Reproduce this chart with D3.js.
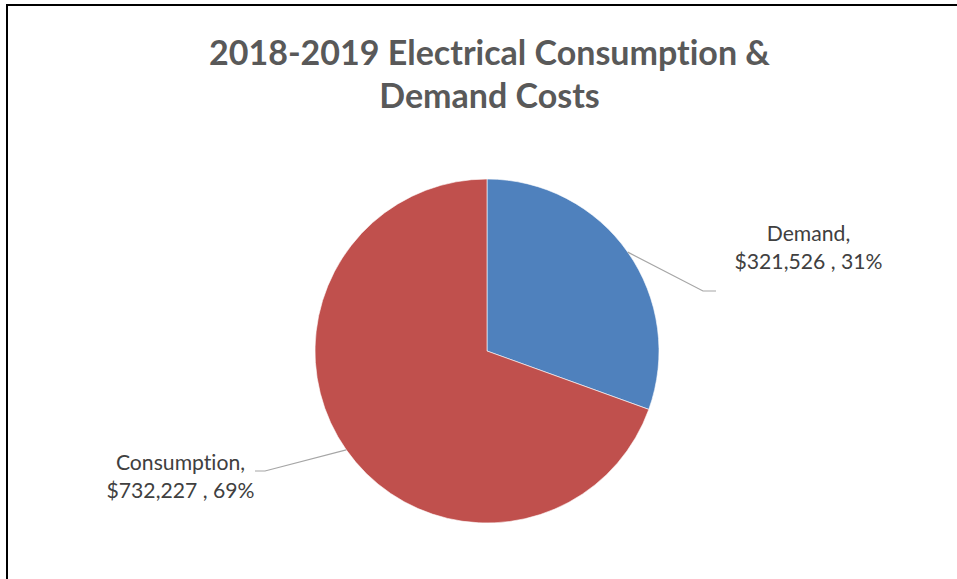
<!DOCTYPE html>
<html>
<head>
<meta charset="utf-8">
<script src="https://cdn.jsdelivr.net/npm/d3@7"></script>
<style>
  html, body { margin: 0; padding: 0; background: #fff; }
  svg { display: block; }
  text { font-variant-ligatures: none; font-feature-settings: "liga" 0, "clig" 0; }
</style>
</head>
<body>
<svg id="chart" width="957" height="579"></svg>
<script>
const titleLines = ["2018-2019 Electrical Consumption &", "Demand Costs"];
const categories = ["Demand", "Consumption"];
const values = [321526, 732227];
const colors = ["#4F81BD", "#C0504D"];

const W = 957, H = 579;
const svg = d3.select("#chart");
const font = "Lato, 'Open Sans', 'Liberation Sans', sans-serif";

// border (frame runs off the right and bottom of the window)
svg.append("rect")
  .attr("x", 7).attr("y", 5)
  .attr("width", W + 20).attr("height", H + 20)
  .attr("fill", "#fff").attr("stroke", "#000").attr("stroke-width", 2);

// title
const cx = 489.5;
const title = svg.append("g");
const tl = title.selectAll("text").data(titleLines).join("text")
  .attr("x", cx)
  .attr("y", (d, i) => [65, 108][i])
  .attr("text-anchor", "middle")
  .attr("font-family", font)
  .attr("font-weight", "bold")
  .attr("font-size", 32)
  .attr("fill", "#595959")
  .text(d => d);
const w1 = tl.nodes()[0].getComputedTextLength();
tl.attr("font-size", 32 * 561 / w1);

// pie
const pcx = 487, pcy = 351, R = 172;
const total = d3.sum(values);
const pie = d3.pie().sort(null).value(d => d)(values);
const arc = d3.arc().innerRadius(0).outerRadius(R);
const g = svg.append("g").attr("transform", `translate(${pcx},${pcy})`);
g.selectAll("path").data(pie).join("path")
  .attr("d", arc)
  .attr("fill", (d, i) => colors[i])
  .attr("stroke", "#fff").attr("stroke-width", 0.6);

// leader lines
const leaderElbows = [[216, -60], [-222, 120]]; // relative to pie center
const leaderEnds = [229, -232];
const lineG = svg.append("g").attr("transform", `translate(${pcx},${pcy})`);
pie.forEach((d, i) => {
  const a = (d.startAngle + d.endAngle) / 2;
  const p0 = [R * Math.sin(a), -R * Math.cos(a)];
  const p1 = leaderElbows[i];
  const p2 = [leaderEnds[i], p1[1]];
  lineG.append("polyline")
    .attr("points", [p0, p1, p2].map(p => p.join(",")).join(" "))
    .attr("fill", "none").attr("stroke", "#A6A6A6").attr("stroke-width", 1.2);
});

// data labels
const fmtMoney = d3.format("$,");
const fmtPct = d3.format(".0%");
const labelPos = [[808.5, 241, 269], [180.5, 470, 498]];
const labelG = svg.append("g");
const labelTexts = [];
pie.forEach((d, i) => {
  const [x, y1, y2] = labelPos[i];
  const lines = [categories[i] + ",", fmtMoney(values[i]) + " , " + fmtPct(values[i] / total)];
  lines.forEach((t, j) => {
    const el = labelG.append("text")
      .attr("x", x).attr("y", j === 0 ? y1 : y2)
      .attr("text-anchor", "middle")
      .attr("font-family", font)
      .attr("font-size", 20)
      .attr("fill", "#404040")
      .text(t);
    labelTexts.push(el);
  });
});
const wl = labelTexts[1].node().getComputedTextLength();
labelTexts.forEach(el => el.attr("font-size", 20 * 148 / wl));
</script>
</body>
</html>
